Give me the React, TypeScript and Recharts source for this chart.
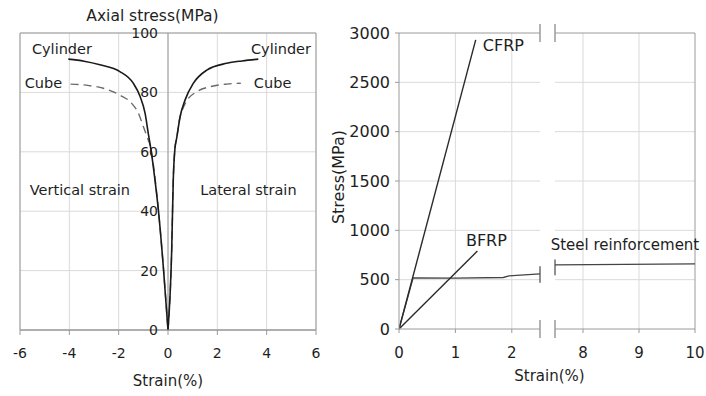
import React from 'react';
import {
  LineChart,
  Line,
  XAxis,
  YAxis,
  CartesianGrid,
  ReferenceLine,
  ReferenceDot,
  ReferenceArea,
} from 'recharts';

const FONT = '"DejaVu Sans", "Liberation Sans", sans-serif';
const TXT = '#1e1e1e';
const GRID = '#dadada';
const AXIS = '#9a9a9a';

// ---------- Left chart: concrete ----------
const leftXTicks = [-6, -4, -2, 0, 2, 4, 6];
const leftYTicks = [0, 20, 40, 60, 80, 100];

const cylLateralStrain = [0, 0.15, 0.215, 0.28, 0.35, 0.49, 0.69, 1.03, 1.57, 2.38, 3.0, 3.66];
const cylLateralStress = [0, 27, 51, 61, 64.5, 71.8, 77.4, 83.1, 87.5, 89.8, 90.6, 91.2];

const cubeLateralStrain = [0, 0.15, 0.215, 0.28, 0.35, 0.49, 0.6, 0.76, 1.16, 1.7, 2.38, 2.95];
const cubeLateralStress = [0, 27, 51, 61, 64.5, 71.8, 74.5, 77.2, 80.2, 81.9, 82.8, 83.1];

const cylVerticalStrain = [-4.04, -3.4, -2.76, -1.95, -1.41, -1.13, -0.93, -0.8, -0.66, -0.55, -0.39, -0.19, 0];
const cylVerticalStress = [91.2, 90.5, 89.3, 87, 83.1, 78.6, 73, 66.2, 59, 52, 40.4, 21.3, 0];

const cubeVerticalStrain = [-3.95, -3.2, -2.62, -1.95, -1.47, -1.2, -1.0, -0.8, -0.7, -0.6, -0.39, -0.19, 0];
const cubeVerticalStress = [82.8, 82.3, 81.4, 79.1, 76.3, 73, 68.5, 64, 61.5, 56, 40.4, 21.3, 0];

const leftLabels = [
  { text: 'Cylinder', x: -4.3, y: 94.6 },
  { text: 'Cylinder', x: 4.58, y: 94.6 },
  { text: 'Cube', x: -5.05, y: 83.2 },
  { text: 'Cube', x: 4.24, y: 83.2 },
  { text: 'Vertical strain', x: -3.57, y: 47.1 },
  { text: 'Lateral strain', x: 3.26, y: 47.1 },
];

// ---------- Right chart: reinforcement ----------
const rightYTicks = [0, 500, 1000, 1500, 2000, 2500, 3000];
const rightGridY = [500, 1000, 1500, 2000, 2500];
const segAXTicks = [0, 1, 2];
const segBXTicks = [8, 9, 10];

const cfrpStrain = [0, 1.36];
const cfrpStress = [0, 2930];

const bfrpStrain = [0, 1.39];
const bfrpStress = [0, 790];

const steelStrainA = [0, 0.25, 1.0, 1.85, 1.95, 2.5];
const steelStressA = [0, 518, 515, 522, 538, 558];

const steelStrainB = [7.5, 10];
const steelStressB = [650, 660];

const zip = (xs: number[], ys: number[]) => xs.map((x, i) => ({ x, y: ys[i] }));

const tickStyle = (size: number) => ({ fill: TXT, fontSize: size, fontFamily: FONT });

export default function App() {
  return (
    <div
      style={{
        position: 'absolute',
        left: 0,
        top: 0,
        width: 706,
        height: 396,
        background: '#fff',
        fontFamily: FONT,
        overflow: 'hidden',
      }}
    >
      <style>{'.recharts-surface{overflow:visible}'}</style>
      {/* Left chart */}
      <div style={{ position: 'absolute', left: 0, top: 0 }}>
        <LineChart width={330} height={396} margin={{ top: 33, right: 14, bottom: 4, left: 20 }}>
          <CartesianGrid
            stroke={GRID}
            horizontalValues={leftYTicks}
            verticalValues={leftXTicks}
          />
          <XAxis
            dataKey="x"
            type="number"
            domain={[-6, 6]}
            ticks={leftXTicks}
            allowDataOverflow
            height={62}
            tickSize={5}
            tickMargin={13}
            stroke={AXIS}
            tick={tickStyle(14)}
            label={{
              value: 'Strain(%)',
              position: 'insideBottom',
              offset: 6,
              fill: TXT,
              fontSize: 15,
              fontFamily: FONT,
            }}
          />
          <YAxis dataKey="y" type="number" domain={[0, 100]} ticks={leftYTicks} hide />
          <ReferenceArea x1={-6} x2={6} y1={0} y2={100} fill="none" stroke={AXIS} strokeWidth={1} />
          <ReferenceLine x={0} stroke={AXIS} strokeWidth={1} />
          {leftYTicks.map((v) => (
            <ReferenceDot
              key={'yl' + v}
              x={0}
              y={v}
              r={0}
              fill="none"
              stroke="none"
              label={{ value: String(v), position: 'left', offset: 10, fill: TXT, fontSize: 14, fontFamily: FONT }}
            />
          ))}
          <ReferenceDot
            x={-0.63}
            y={100}
            r={0}
            fill="none"
            stroke="none"
            label={{ value: 'Axial stress(MPa)', position: 'top', offset: 12, fill: TXT, fontSize: 15.5, fontFamily: FONT }}
          />
          {leftLabels.map((l, i) => (
            <ReferenceDot
              key={'ll' + i}
              x={l.x}
              y={l.y}
              r={0}
              fill="none"
              stroke="none"
              label={{ value: l.text, position: 'center', fill: TXT, fontSize: 14.5, fontFamily: FONT }}
            />
          ))}
          <Line
            data={zip(cubeLateralStrain, cubeLateralStress)}
            dataKey="y"
            type="monotone"
            stroke="#6a6a6a"
            strokeWidth={1.4}
            strokeDasharray="8 5"
            dot={false}
            isAnimationActive={false}
          />
          <Line
            data={zip(cubeVerticalStrain, cubeVerticalStress)}
            dataKey="y"
            type="monotone"
            stroke="#6a6a6a"
            strokeWidth={1.4}
            strokeDasharray="8 5"
            dot={false}
            isAnimationActive={false}
          />
          <Line
            data={zip(cylLateralStrain, cylLateralStress)}
            dataKey="y"
            type="monotone"
            stroke="#1a1a1a"
            strokeWidth={1.6}
            dot={false}
            isAnimationActive={false}
          />
          <Line
            data={zip(cylVerticalStrain, cylVerticalStress)}
            dataKey="y"
            type="monotone"
            stroke="#1a1a1a"
            strokeWidth={1.6}
            dot={false}
            isAnimationActive={false}
          />
        </LineChart>
      </div>

      {/* Right chart, segment 0 - 2.5 */}
      <div style={{ position: 'absolute', left: 330, top: 0 }}>
        <LineChart width={210} height={396} margin={{ top: 33, right: 0, bottom: 4, left: 0 }}>
          <CartesianGrid stroke={GRID} horizontalValues={rightGridY} verticalValues={[1, 2]} />
          <XAxis
            dataKey="x"
            type="number"
            domain={[0, 2.5]}
            ticks={segAXTicks}
            allowDataOverflow
            height={63}
            tickSize={4}
            tickMargin={14}
            stroke={AXIS}
            tick={tickStyle(15)}
            label={{
              value: 'Strain(%)',
              position: 'insideBottom',
              offset: 11,
              dx: 80,
              fill: TXT,
              fontSize: 15,
              fontFamily: FONT,
            }}
          />
          <YAxis
            dataKey="y"
            type="number"
            domain={[0, 3000]}
            ticks={rightYTicks}
            width={69}
            tickSize={4}
            tickMargin={5}
            stroke={AXIS}
            tick={tickStyle(16)}
            label={{
              value: 'Stress(MPa)',
              angle: -90,
              position: 'insideLeft',
              offset: 8,
              dy: -4,
              style: { textAnchor: 'middle' },
              fill: TXT,
              fontSize: 16,
              fontFamily: FONT,
            }}
          />
          <ReferenceLine y={3000} stroke={AXIS} strokeWidth={1} />
          <ReferenceLine segment={[{ x: 2.5, y: 2910 }, { x: 2.5, y: 3090 }]} stroke={AXIS} strokeWidth={1.5} ifOverflow="visible" />
          <ReferenceLine segment={[{ x: 2.5, y: -90 }, { x: 2.5, y: 90 }]} stroke={AXIS} strokeWidth={1.5} ifOverflow="visible" />
          <ReferenceLine segment={[{ x: 2.5, y: 470 }, { x: 2.5, y: 635 }]} stroke="#555" strokeWidth={1.3} ifOverflow="visible" />
          <ReferenceDot
            x={1.85}
            y={2878}
            r={0}
            fill="none"
            stroke="none"
            label={{ value: 'CFRP', position: 'center', fill: TXT, fontSize: 16, fontFamily: FONT }}
          />
          <ReferenceDot
            x={1.55}
            y={897}
            r={0}
            fill="none"
            stroke="none"
            label={{ value: 'BFRP', position: 'center', fill: TXT, fontSize: 16, fontFamily: FONT }}
          />
          <Line
            data={zip(steelStrainA, steelStressA)}
            dataKey="y"
            type="linear"
            stroke="#444"
            strokeWidth={1.3}
            dot={false}
            isAnimationActive={false}
          />
          <Line
            data={zip(bfrpStrain, bfrpStress)}
            dataKey="y"
            type="linear"
            stroke="#2a2a2a"
            strokeWidth={1.4}
            dot={false}
            isAnimationActive={false}
          />
          <Line
            data={zip(cfrpStrain, cfrpStress)}
            dataKey="y"
            type="linear"
            stroke="#2a2a2a"
            strokeWidth={1.4}
            dot={false}
            isAnimationActive={false}
          />
        </LineChart>
      </div>

      {/* Right chart, segment 7.5 - 10 */}
      <div style={{ position: 'absolute', left: 540, top: 0 }}>
        <LineChart width={166} height={396} margin={{ top: 33, right: 11, bottom: 4, left: 15 }}>
          <CartesianGrid stroke={GRID} horizontalValues={rightGridY} verticalValues={[8, 9]} />
          <XAxis
            dataKey="x"
            type="number"
            domain={[7.5, 10]}
            ticks={segBXTicks}
            allowDataOverflow
            height={63}
            tickSize={4}
            tickMargin={14}
            stroke={AXIS}
            tick={tickStyle(15)}
          />
          <YAxis dataKey="y" type="number" domain={[0, 3000]} ticks={rightYTicks} hide />
          <ReferenceLine y={3000} stroke={AXIS} strokeWidth={1} />
          <ReferenceLine x={10} stroke={AXIS} strokeWidth={1} />
          <ReferenceLine segment={[{ x: 7.5, y: 2910 }, { x: 7.5, y: 3090 }]} stroke={AXIS} strokeWidth={1.5} ifOverflow="visible" />
          <ReferenceLine segment={[{ x: 7.5, y: -90 }, { x: 7.5, y: 90 }]} stroke={AXIS} strokeWidth={1.5} ifOverflow="visible" />
          <ReferenceLine segment={[{ x: 7.5, y: 545 }, { x: 7.5, y: 705 }]} stroke="#555" strokeWidth={1.3} ifOverflow="visible" />
          <ReferenceDot
            x={8.75}
            y={851}
            r={0}
            fill="none"
            stroke="none"
            label={{ value: 'Steel reinforcement', position: 'center', fill: TXT, fontSize: 15, fontFamily: FONT }}
          />
          <Line
            data={zip(steelStrainB, steelStressB)}
            dataKey="y"
            type="linear"
            stroke="#444"
            strokeWidth={1.3}
            dot={false}
            isAnimationActive={false}
          />
        </LineChart>
      </div>
    </div>
  );
}
